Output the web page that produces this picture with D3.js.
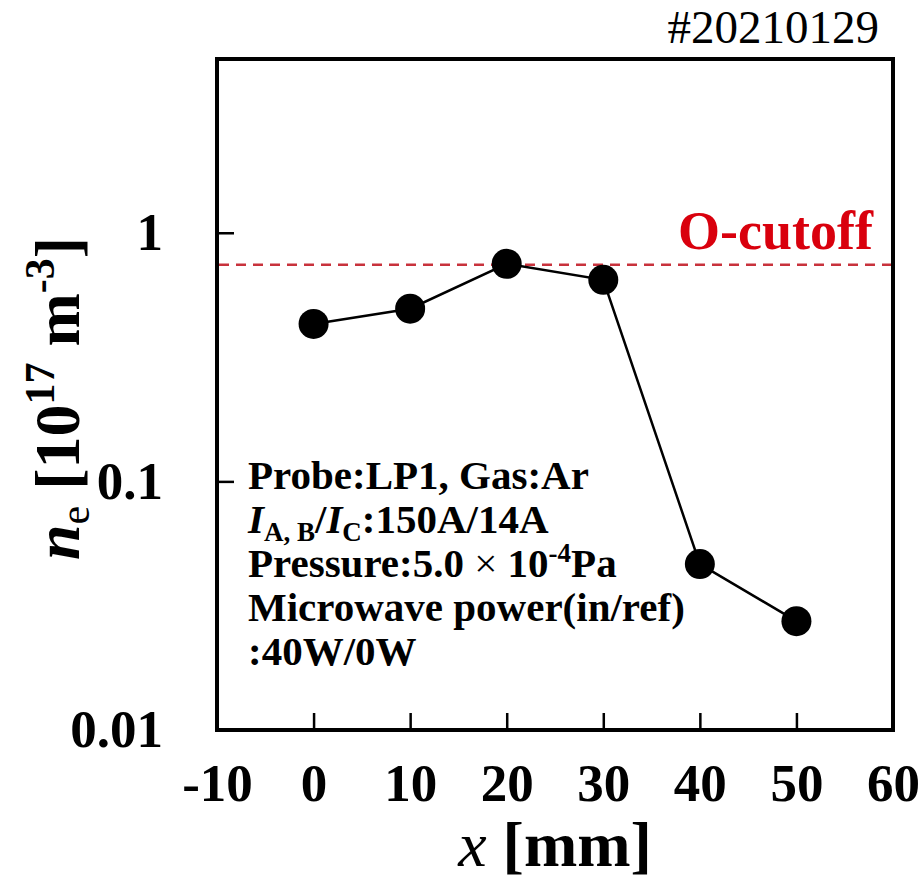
<!DOCTYPE html>
<html>
<head>
<meta charset="utf-8">
<script src="https://cdn.jsdelivr.net/npm/d3@7"></script>
<style>
  body { margin: 0; background: #fff; }
  text { font-family: "Liberation Serif", "Times New Roman", serif; }
</style>
</head>
<body>
<svg width="924" height="883"></svg>
<script>
// probe positions and measured electron density (10^17 m^-3)
var positions = [0, 10, 20, 30, 40, 50];
var density = [0.43, 0.495, 0.75, 0.647, 0.0465, 0.0274];
var cutoff = 0.744;
var xTicks = [-10, 0, 10, 20, 30, 40, 50, 60];
var yTicks = [0.01, 0.1, 1];
var shotLabel = "#20210129";

var svg = d3.select("svg");
var plotLeft = 217, plotRight = 893, plotTop = 59, plotBottom = 730;

var xScale = d3.scaleLinear().domain([-10, 60]).range([plotLeft, plotRight]);
var yScale = d3.scaleLog().domain([0.01, 5]).range([plotBottom, plotTop]);

// x axis, ticks pointing inward
var gx = svg.append("g")
    .attr("transform", "translate(0," + plotBottom + ")")
    .call(d3.axisBottom(xScale).tickValues(xTicks).tickSize(-17).tickPadding(33)
        .tickFormat(function(d) { return d; }));
gx.select(".domain").remove();
gx.selectAll("line").attr("stroke", "#000").attr("stroke-width", 2.5);
gx.selectAll("text")
  .attr("fill", "#000")
  .attr("font-size", "53px")
  .attr("font-weight", "bold")
  .attr("font-family", "Liberation Serif, serif");

var gy = svg.append("g")
    .attr("transform", "translate(" + plotLeft + ",0)")
    .call(d3.axisLeft(yScale).tickValues(yTicks).tickSize(-17).tickPadding(54)
        .tickFormat(function(d) { return d; }));
gy.select(".domain").remove();
gy.selectAll("line").attr("stroke", "#000").attr("stroke-width", 2.5);
gy.selectAll("text")
  .attr("fill", "#000")
  .attr("font-size", "53px")
  .attr("font-weight", "bold")
  .attr("font-family", "Liberation Serif, serif");

// frame
svg.append("rect")
   .attr("x", plotLeft).attr("y", plotTop)
   .attr("width", plotRight - plotLeft).attr("height", plotBottom - plotTop)
   .attr("fill", "none").attr("stroke", "#000").attr("stroke-width", 4);

// cutoff line
svg.append("line")
   .attr("x1", plotLeft + 2).attr("x2", plotRight - 2)
   .attr("y1", yScale(cutoff)).attr("y2", yScale(cutoff))
   .attr("stroke", "#c8323c").attr("stroke-width", 2.5)
   .attr("stroke-dasharray", "10,7");

svg.append("text")
   .attr("x", plotRight - 20).attr("y", yScale(cutoff) - 16)
   .attr("text-anchor", "end")
   .attr("fill", "#d9000d")
   .attr("font-size", "54px").attr("font-weight", "bold")
   .text("O-cutoff");

var pts = positions.map(function(p, i) { return [p, density[i]]; });

var line = d3.line()
    .x(function(d) { return xScale(d[0]); })
    .y(function(d) { return yScale(d[1]); });

svg.append("path")
   .datum(pts)
   .attr("d", line)
   .attr("fill", "none").attr("stroke", "#000").attr("stroke-width", 2.5);

svg.selectAll(".dot")
   .data(pts)
   .enter().append("circle")
   .attr("class", "dot")
   .attr("cx", function(d) { return xScale(d[0]); })
   .attr("cy", function(d) { return yScale(d[1]); })
   .attr("r", 15)
   .attr("fill", "#000");

// shot number
svg.append("text")
   .attr("x", 879).attr("y", 43)
   .attr("text-anchor", "end")
   .attr("font-size", "47px")
   .text(shotLabel);

// conditions box, one text element per line
var infoX = 248, infoY = 489, infoStep = 44;
function infoLine(i) {
  return svg.append("text")
     .attr("x", infoX).attr("y", infoY + i * infoStep)
     .attr("font-size", "41px").attr("font-weight", "bold");
}
infoLine(0).text("Probe:LP1, Gas:Ar");

var l2 = infoLine(1);
l2.append("tspan").attr("font-style", "italic").text("I");
l2.append("tspan").attr("font-size", "27px").attr("dy", 8).text("A, B");
l2.append("tspan").attr("dy", -8).text("/");
l2.append("tspan").attr("font-style", "italic").text("I");
l2.append("tspan").attr("font-size", "27px").attr("dy", 8).text("C");
l2.append("tspan").attr("dy", -8).text(":150A/14A");

var l3 = infoLine(2);
l3.append("tspan").text("Pressure:5.0");
l3.append("tspan").attr("font-weight", "normal").text(" \u00d7 ");
l3.append("tspan").text("10");
l3.append("tspan").attr("font-size", "27px").attr("dy", -15).text("-4");
l3.append("tspan").attr("dy", 15).text("Pa");

infoLine(3).text("Microwave power(in/ref)");
infoLine(4).text(":40W/0W");

// x axis title
var xt = svg.append("text")
   .attr("x", (plotLeft + plotRight) / 2).attr("y", 866)
   .attr("text-anchor", "middle")
   .attr("font-size", "64px").attr("font-weight", "bold");
xt.append("tspan").attr("font-style", "italic").attr("font-weight", "normal").text("x");
xt.append("tspan").text(" [mm]");

// y axis title
var yt = svg.append("text")
   .attr("transform", "translate(79," + ((plotTop + plotBottom) / 2 + 4) + ") rotate(-90)")
   .attr("text-anchor", "middle")
   .attr("font-size", "64px").attr("font-weight", "bold");
yt.append("tspan").attr("font-style", "italic").text("n");
yt.append("tspan").attr("font-size", "42px").attr("font-weight", "normal").attr("dy", 10).text("e");
yt.append("tspan").attr("dy", -10).text(" [10");
yt.append("tspan").attr("font-size", "42px").attr("dy", -25).text("17");
yt.append("tspan").attr("dy", 25).text(" m");
yt.append("tspan").attr("font-size", "42px").attr("dy", -25).text("-3");
yt.append("tspan").attr("dy", 25).text("]");
</script>
</body>
</html>
